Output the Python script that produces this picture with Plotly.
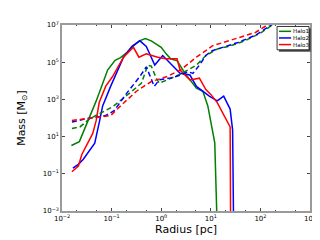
import plotly.graph_objects as go
import numpy as np

# --- data (log10 values) ---
halo1_logr = [-1.81, -1.65, -1.31, -1.08, -0.93, -0.82, -0.70, -0.59, -0.44, -0.32, -0.20, -0.08, 0.0, 0.10, 0.19, 0.32, 0.48, 0.71, 0.84, 0.94, 1.03, 1.08, 1.13]
halo1_logm = [0.52, 0.73, 2.92, 4.58, 5.10, 5.25, 5.50, 5.80, 6.15, 6.27, 6.15, 5.95, 5.80, 5.45, 5.18, 5.08, 4.40, 3.60, 3.44, 2.65, 1.35, 0.66, -4.0]

halo2_logr = [-1.78, -1.67, -1.57, -1.34, -1.24, -1.18, -1.02, -0.89, -0.76, -0.59, -0.43, -0.30, -0.13, 0.03, 0.19, 0.38, 0.58, 0.71, 0.97, 1.13, 1.26, 1.39, 1.44, 1.46]
halo2_logm = [-0.70, -0.49, -0.22, 0.65, 1.87, 2.65, 3.70, 4.49, 5.27, 5.85, 6.15, 5.85, 4.85, 5.36, 4.92, 4.40, 4.31, 3.70, 3.18, 2.92, 3.18, 2.48, 1.35, -4.0]

halo3_logr = [-1.80, -1.67, -1.60, -1.38, -1.31, -1.25, -1.12, -0.98, -0.76, -0.56, -0.45, -0.30, -0.07, 0.09, 0.32, 0.38, 0.58, 0.77, 0.90, 1.00, 1.13, 1.29, 1.39, 1.40]
halo3_logm = [-0.89, -0.58, 0.04, 1.17, 1.87, 2.83, 3.70, 4.23, 5.27, 5.80, 5.27, 5.45, 5.27, 5.18, 5.18, 4.58, 4.05, 4.14, 3.53, 3.27, 2.83, 2.04, 1.52, -4.0]

halo1_enc_logr = [-1.80, -1.64, -1.44, -1.31, -0.98, -0.63, -0.40, -0.27, -0.20, -0.10, -0.04, 0.12, 0.35, 0.54, 0.71, 0.90, 1.13, 1.36, 1.69, 2.01, 2.24]
halo1_enc_logm = [1.43, 1.52, 1.96, 2.13, 2.60, 3.35, 3.87, 4.84, 4.79, 4.14, 3.87, 4.05, 4.31, 4.58, 4.84, 5.36, 5.71, 5.85, 6.15, 6.58, 7.0]

halo2_enc_logr = [-1.80, -1.51, -1.31, -1.12, -0.95, -0.69, -0.43, -0.30, -0.14, -0.04, 0.19, 0.38, 0.54, 0.64, 0.77, 0.90, 1.03, 1.29, 1.55, 1.90, 2.17, 2.25]
halo2_enc_logm = [1.78, 1.96, 2.04, 2.13, 2.39, 3.35, 4.23, 4.75, 3.70, 4.05, 4.15, 4.30, 4.49, 4.40, 4.84, 5.36, 5.62, 5.85, 6.06, 6.45, 6.93, 7.05]

halo3_enc_logr = [-1.80, -1.51, -1.25, -1.02, -0.82, -0.50, -0.20, 0.12, 0.40, 0.71, 0.90, 1.03, 1.36, 1.55, 1.90, 2.14, 2.20]
halo3_enc_logm = [1.87, 1.96, 2.02, 2.13, 2.65, 3.44, 3.96, 4.23, 4.60, 5.27, 5.62, 5.88, 6.15, 6.32, 6.60, 7.00, 7.05]

names = ["Halo1", "Halo2", "Halo3"]
colors = ["#008000", "#0000ff", "#ff0000"]

x_tickvals = [1e-2, 1e-1, 1e0, 1e1, 1e2, 1e3]
x_ticktext = ["10<sup>−2</sup>", "10<sup>−1</sup>", "10<sup>0</sup>", "10<sup>1</sup>", "10<sup>2</sup>", "10<sup>3</sup>"]
y_tickvals = [1e-3, 1e-1, 1e1, 1e3, 1e5, 1e7]
y_ticktext = ["10<sup>−3</sup>", "10<sup>−1</sup>", "10<sup>1</sup>", "10<sup>3</sup>", "10<sup>5</sup>", "10<sup>7</sup>"]

solid = [(halo1_logr, halo1_logm), (halo2_logr, halo2_logm), (halo3_logr, halo3_logm)]
dashed = [(halo1_enc_logr, halo1_enc_logm), (halo2_enc_logr, halo2_enc_logm), (halo3_enc_logr, halo3_enc_logm)]

fig = go.Figure()
for (lr, lm), c, n in zip(solid, colors, names):
    fig.add_trace(go.Scatter(x=10 ** np.array(lr), y=10 ** np.array(lm), mode="lines",
                             line=dict(color=c, width=1.5), name=n, showlegend=False))
for (lr, lm), c, n in zip(dashed, colors, names):
    fig.add_trace(go.Scatter(x=10 ** np.array(lr), y=10 ** np.array(lm), mode="lines",
                             line=dict(color=c, width=1.5, dash="5px,3px"), name=n, showlegend=False))

L, R, T, B = 48, 16, 12, 37
W, H = 320, 240
pw, ph = W - L - R, H - T - B

def px(x):
    return (x - L) / pw

def py(y):
    return (H - B - y) / ph

# manual legend
shapes = []
shapes.append(dict(type="rect", xref="paper", yref="paper", x0=px(272), x1=px(305), y0=py(39.5), y1=py(15.5),
                   fillcolor="#555555", line=dict(width=0), layer="above"))
shapes.append(dict(type="rect", xref="paper", yref="paper", x0=px(270), x1=px(303), y0=py(37.5), y1=py(13.5),
                   fillcolor="white", line=dict(color="black", width=0.8), layer="above"))
annotations = []
for i, (c, n) in enumerate(zip(colors, names)):
    yy = 18.5 + i * 6.8
    shapes.append(dict(type="line", xref="paper", yref="paper", x0=px(272), x1=px(284.5), y0=py(yy), y1=py(yy),
                       line=dict(color=c, width=1.5), layer="above"))
    annotations.append(dict(xref="paper", yref="paper", x=px(285), y=py(yy), text=n, showarrow=False,
                            xanchor="left", yanchor="middle", borderpad=0,
                            font=dict(size=5.5, color="black", family="DejaVu Sans")))

axis_common = dict(type="log", showgrid=False, zeroline=False, showline=True, linecolor="#9a9a9a",
                   linewidth=1.5, mirror="ticks", ticks="inside", ticklen=3, tickcolor="#444",
                   tickfont=dict(size=7, family="DejaVu Sans", color="black"))

fig.update_xaxes(range=[-2, 3], tickvals=x_tickvals, ticktext=x_ticktext,
                 title=dict(text="Radius [pc]", font=dict(size=11, family="DejaVu Sans", color="black"), standoff=0),
                 minor=dict(ticks="inside", ticklen=1.5, tickcolor="#444"), **axis_common)
fig.update_yaxes(range=[-3, 7], tickvals=y_tickvals, ticktext=y_ticktext,
                 title=dict(text="Mass [M<sub>⊙</sub>]", font=dict(size=11, family="DejaVu Sans", color="black"), standoff=15),
                 **axis_common)

fig.update_layout(width=W, height=H, margin=dict(l=L, r=R, t=T, b=B), plot_bgcolor="white",
                  paper_bgcolor="white", showlegend=False, shapes=shapes, annotations=annotations)

fig.write_html("out.html")
